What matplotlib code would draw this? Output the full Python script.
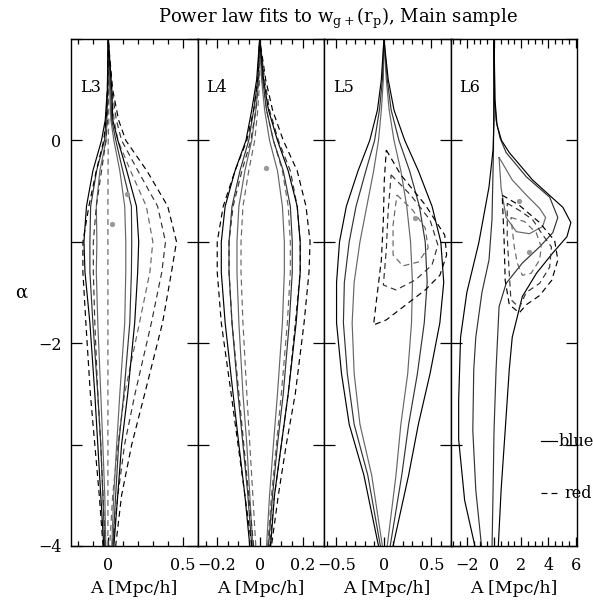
import numpy as np
import matplotlib
matplotlib.use("Agg")
import matplotlib.pyplot as plt
from matplotlib.ticker import MultipleLocator, FuncFormatter

plt.rcParams['font.family'] = ['DejaVu Serif']
plt.rcParams['mathtext.fontset'] = 'dejavuserif'

# ---- data: A [Mpc/h] vs alpha ----
panel_names = ['L3', 'L4', 'L5', 'L6']

# L3: contour edges (left / right A) at fixed alpha levels, inner -> outer
alpha_L3 = [1.0, 0.5, 0.2, 0.0, -0.3, -0.65, -1.0, -1.3, -1.8, -2.5, -3.0, -3.5, -4.0]
blue_L3_left = [
    [0, -0.002, -0.008, -0.015, -0.056, -0.08, -0.076, -0.08, -0.07, -0.05, -0.036, -0.023, -0.016],
    [0, -0.004, -0.014, -0.025, -0.078, -0.118, -0.123, -0.123, -0.103, -0.07, -0.05, -0.036, -0.023],
    [0, -0.006, -0.02, -0.045, -0.103, -0.146, -0.163, -0.156, -0.123, -0.09, -0.07, -0.05, -0.03],
]
blue_L3_right = [
    [0, 0.01, 0.018, 0.038, 0.078, 0.111, 0.118, 0.118, 0.111, 0.078, 0.057, 0.037, 0.024],
    [0, 0.017, 0.024, 0.051, 0.098, 0.156, 0.158, 0.156, 0.145, 0.105, 0.07, 0.05, 0.031],
    [0, 0.024, 0.031, 0.065, 0.125, 0.19, 0.205, 0.198, 0.178, 0.131, 0.09, 0.064, 0.038],
]
red_L3_left = [
    [0, 0.003, 0.004, 0.0, -0.001, -0.002, -0.002, -0.002, -0.002, -0.002, -0.002, -0.002, -0.002],
    [0, 0.0, -0.005, -0.015, -0.045, -0.08, -0.1, -0.1, -0.09, -0.07, -0.05, -0.035, -0.02],
    [0, -0.005, -0.015, -0.03, -0.08, -0.13, -0.17, -0.17, -0.15, -0.12, -0.09, -0.06, -0.035],
]
red_L3_right = [
    [0, 0.02, 0.04, 0.065, 0.15, 0.256, 0.3, 0.28, 0.21, 0.11, 0.065, 0.03, 0.01],
    [0, 0.025, 0.055, 0.09, 0.2, 0.332, 0.385, 0.36, 0.29, 0.18, 0.11, 0.065, 0.03],
    [0, 0.03, 0.07, 0.118, 0.26, 0.4, 0.459, 0.425, 0.365, 0.245, 0.158, 0.09, 0.05],
]

# L4
alpha_L4 = [1.0, 0.6, 0.3, 0.0, -0.3, -0.65, -1.0, -1.3, -1.8, -2.5, -3.0, -3.5, -4.0]
blue_L4_left = [
    [0, -0.005, -0.018, -0.037, -0.069, -0.097, -0.106, -0.106, -0.097, -0.078, -0.06, -0.046, -0.032],
    [0, -0.009, -0.028, -0.051, -0.092, -0.129, -0.143, -0.143, -0.129, -0.101, -0.078, -0.055, -0.037],
    [0, -0.014, -0.037, -0.064, -0.115, -0.161, -0.179, -0.179, -0.161, -0.124, -0.097, -0.069, -0.046],
]
blue_L4_right = [
    [0, 0.009, 0.023, 0.046, 0.083, 0.106, 0.115, 0.115, 0.106, 0.083, 0.064, 0.046, 0.032],
    [0, 0.014, 0.032, 0.064, 0.11, 0.143, 0.152, 0.152, 0.138, 0.11, 0.083, 0.06, 0.041],
    [0, 0.018, 0.041, 0.083, 0.133, 0.175, 0.189, 0.189, 0.17, 0.133, 0.101, 0.069, 0.051],
]
red_L4_left = [
    [0, 0.0, -0.009, -0.023, -0.051, -0.078, -0.087, -0.087, -0.078, -0.06, -0.046, -0.032, -0.018],
    [0, -0.005, -0.018, -0.041, -0.083, -0.124, -0.143, -0.143, -0.129, -0.097, -0.074, -0.051, -0.028],
    [0, -0.009, -0.028, -0.06, -0.115, -0.17, -0.198, -0.198, -0.179, -0.133, -0.101, -0.069, -0.037],
]
red_L4_right = [
    [0, 0.014, 0.032, 0.064, 0.106, 0.133, 0.143, 0.143, 0.129, 0.101, 0.078, 0.055, 0.037],
    [0, 0.023, 0.046, 0.087, 0.143, 0.175, 0.189, 0.189, 0.166, 0.133, 0.101, 0.069, 0.046],
    [0, 0.028, 0.06, 0.11, 0.175, 0.216, 0.235, 0.23, 0.207, 0.166, 0.124, 0.087, 0.055],
]

# L5
alpha_L5 = [1.0, 0.6, 0.3, 0.0, -0.3, -0.65, -1.0, -1.4, -1.8, -2.3, -2.8, -3.3, -4.0]
blue_L5_left = [
    [0, -0.006, -0.027, -0.057, -0.108, -0.18, -0.252, -0.313, -0.334, -0.313, -0.252, -0.129, -0.016],
    [0, -0.016, -0.047, -0.098, -0.19, -0.293, -0.365, -0.416, -0.426, -0.385, -0.313, -0.17, -0.037],
    [0, -0.027, -0.068, -0.149, -0.272, -0.395, -0.467, -0.498, -0.498, -0.446, -0.365, -0.211, -0.057],
]
blue_L5_right = [
    [0, 0.025, 0.055, 0.106, 0.178, 0.24, 0.28, 0.3, 0.29, 0.25, 0.178, 0.127, 0.035],
    [0, 0.035, 0.076, 0.158, 0.27, 0.373, 0.434, 0.455, 0.424, 0.352, 0.26, 0.188, 0.066],
    [0, 0.045, 0.106, 0.219, 0.362, 0.506, 0.598, 0.629, 0.588, 0.485, 0.362, 0.26, 0.096],
]
red_L5_A = [
    [0.137, 0.301, 0.434, 0.465, 0.362, 0.199, 0.096, 0.096],
    [0.076, 0.28, 0.485, 0.567, 0.506, 0.332, 0.127, -0.006, 0.025, 0.045],
    [0.025, 0.178, 0.434, 0.639, 0.659, 0.588, 0.434, 0.229, 0.025, -0.109, -0.078, -0.027, -0.006, 0.004],
]
red_L5_alpha = [
    [-0.538, -0.686, -0.864, -1.061, -1.199, -1.238, -1.13, -0.834],
    [-0.34, -0.538, -0.785, -1.031, -1.228, -1.376, -1.475, -1.426, -1.08, -0.686],
    [-0.095, -0.34, -0.635, -0.933, -1.13, -1.33, -1.475, -1.623, -1.77, -1.82, -1.573, -1.179, -0.785, -0.39],
]

# L6 (open outer contours listed bottom-left -> top -> bottom-right)
blue_L6_open_A = [
    [-0.89, -1.34, -1.56, -1.49, -1.34, -0.89, -0.37, -0.15, -0.04, 0, 0.05, 0.15, 0.45, 0.89, 2.38, 4.09,
     4.69, 4.32, 3.35, 2.08, 0.89, 0.37, 0.15, 0, -0.07, -0.15],
    [-1.34, -2.16, -2.6, -2.6, -2.53, -2.46, -2.0, -1.12, -0.37, -0.07, 0, 0, 0.07, 0.22, 0.55, 1.12, 2.83,
     5.06, 5.65, 5.36, 4.32, 3.12, 2.08, 1.34, 1.12, 0.82, 0.52, 0.3],
]
blue_L6_open_alpha = [
    [-4.04, -3.45, -2.86, -2.26, -1.94, -1.5, -1.18, -0.78, -0.09, 1.04, 0.4, 0.2, 0.02, -0.12, -0.36, -0.56,
     -0.76, -0.91, -1.05, -1.21, -1.41, -1.64, -2.26, -2.86, -3.45, -4.04],
    [-4.04, -3.55, -2.95, -2.56, -2.26, -1.94, -1.5, -1.01, -0.46, -0.09, 0.2, 1.04, 0.4, 0.15, 0.0, -0.12,
     -0.39, -0.66, -0.81, -0.95, -1.11, -1.31, -1.54, -1.94, -2.26, -2.86, -3.45, -4.04],
]
blue_L6_loop_A = [0.37, 0.52, 0.89, 1.64, 2.6, 3.57, 3.79, 3.35, 2.38, 1.34, 0.6]
blue_L6_loop_alpha = [-0.17, -0.47, -0.76, -0.9, -0.92, -0.85, -0.76, -0.67, -0.54, -0.39, -0.22]
red_L6_A = [
    [1.24, 2.23, 3.1, 3.47, 3.35, 2.73, 2.08, 1.71, 1.49],
    [0.97, 1.86, 2.83, 3.57, 4.22, 4.09, 3.35, 2.36, 1.86, 1.24, 1.12, 0.97],
    [0.6, 1.86, 3.35, 4.46, 4.69, 4.24, 3.35, 2.38, 1.86, 1.12, 0.82, 0.74],
]
red_L6_alpha = [
    [-0.76, -0.8, -0.91, -1.05, -1.18, -1.31, -1.33, -1.21, -1.05],
    [-0.62, -0.69, -0.78, -0.93, -1.05, -1.25, -1.41, -1.5, -1.65, -1.57, -1.31, -0.95],
    [-0.54, -0.64, -0.81, -0.99, -1.18, -1.38, -1.53, -1.62, -1.7, -1.62, -1.38, -0.98],
]

# best-fit points (grey dots)
best_A = [[0.125, 0.025], [0.03], [0.332], [1.86, 2.6]]
best_alpha = [[-0.53, -0.82], [-0.27], [-0.765], [-0.595, -1.1]]

x_limits = [(-0.25, 0.6), (-0.29, 0.30), (-0.63, 0.7), (-3.2, 6.1)]
x_major = [0.5, 0.2, 0.5, 2]
x_minor = [0.1, 0.05, 0.1, 0.5]

# ---- styles ----
shades = ['0.4', '0.2', '0.0']
dash = (0, (5, 3.5))


def fan(ax, alpha, left, right, **kw):
    a = np.asarray(alpha)
    x = np.concatenate([np.asarray(left)[::-1], np.asarray(right)])
    y = np.concatenate([a[::-1], a])
    ax.plot(x, y, **kw)


def loop(ax, xs, ys, **kw):
    ax.plot(np.append(xs, xs[0]), np.append(ys, ys[0]), **kw)


def fmt(v, pos):
    if abs(v) < 1e-9:
        v = 0.0
    return f'{round(v, 6):g}'.replace('-', '\u2212')


def yfmt(v, pos):
    k = int(round(v))
    if k % 2:
        return ''
    return str(k).replace('-', '\u2212')


fig = plt.figure(figsize=(5.93, 6.03), dpi=100)
left0, width, bottom, height = 71 / 593, 506 / 593 / 4, 1 - 546 / 603, 507 / 603
axes = [fig.add_axes([left0 + i * width, bottom, width, height]) for i in range(4)]

fan_data = [
    (alpha_L3, blue_L3_left, blue_L3_right, red_L3_left, red_L3_right),
    (alpha_L4, blue_L4_left, blue_L4_right, red_L4_left, red_L4_right),
    (alpha_L5, blue_L5_left, blue_L5_right, None, None),
]

for i, ax in enumerate(axes):
    if i < 3:
        al, bl, br, rl, rr = fan_data[i]
        for k in range(3):
            fan(ax, al, bl[k], br[k], color=shades[k], lw=0.85)
            if rl is not None:
                fan(ax, al, rl[k], rr[k], color=shades[k], lw=0.85, ls=dash)
        if i == 2:
            for k in range(3):
                loop(ax, red_L5_A[k], red_L5_alpha[k], color=shades[k], lw=0.85, ls=dash)
    else:
        loop(ax, blue_L6_loop_A, blue_L6_loop_alpha, color=shades[0], lw=0.85)
        for k in range(2):
            ax.plot(blue_L6_open_A[k], blue_L6_open_alpha[k], color=shades[k + 1], lw=0.85)
        for k in range(3):
            loop(ax, red_L6_A[k], red_L6_alpha[k], color=shades[k], lw=0.85, ls=dash)

    ax.plot(best_A[i], best_alpha[i], 'o', color='0.6', ms=3.8, mec='none')

    ax.set_xlim(*x_limits[i])
    ax.set_ylim(-4, 1)
    ax.xaxis.set_major_locator(MultipleLocator(x_major[i]))
    ax.xaxis.set_minor_locator(MultipleLocator(x_minor[i]))
    ax.xaxis.set_major_formatter(FuncFormatter(fmt))
    ax.yaxis.set_major_locator(MultipleLocator(1))
    ax.yaxis.set_major_formatter(FuncFormatter(yfmt))
    ax.tick_params(which='both', direction='in', top=True, right=True,
                   labelsize=11.5, width=0.9)
    ax.tick_params(axis='x', which='major', length=6.5, pad=8)
    ax.tick_params(axis='x', which='minor', length=3.3)
    ax.tick_params(axis='y', which='major', length=8, pad=7)
    if i > 0:
        ax.tick_params(axis='y', labelleft=False)
    for sp in ax.spines.values():
        sp.set_linewidth(1.0)
    ax.set_xlabel('A [Mpc/h]', fontsize=12.5, labelpad=4)
    ax.text(0.07, 0.905, panel_names[i], transform=ax.transAxes,
            ha='left', va='center', fontsize=11.5)

# legend marks in the L6 panel
ax6 = axes[3]
ax6.plot([0.712, 0.84], [0.207, 0.207], transform=ax6.transAxes, color='k', lw=0.85)
ax6.text(0.855, 0.207, 'blue', transform=ax6.transAxes, ha='left', va='center',
         fontsize=11.5, clip_on=False)
ax6.plot([0.712, 0.84], [0.1045, 0.1045], transform=ax6.transAxes, color='k', lw=0.85,
         ls=dash)
ax6.text(0.9, 0.1045, 'red', transform=ax6.transAxes, ha='left', va='center',
         fontsize=11.5, clip_on=False)

fig.text(0.035, 0.514, '\u03b1', fontsize=13, ha='center', va='center')
fig.text(0.57, 0.97, r'Power law fits to w$_{\rm g+}$(r$_{\rm p}$), Main sample',
         ha='center', va='center', fontsize=13)

fig.savefig('out.png', dpi=100)
